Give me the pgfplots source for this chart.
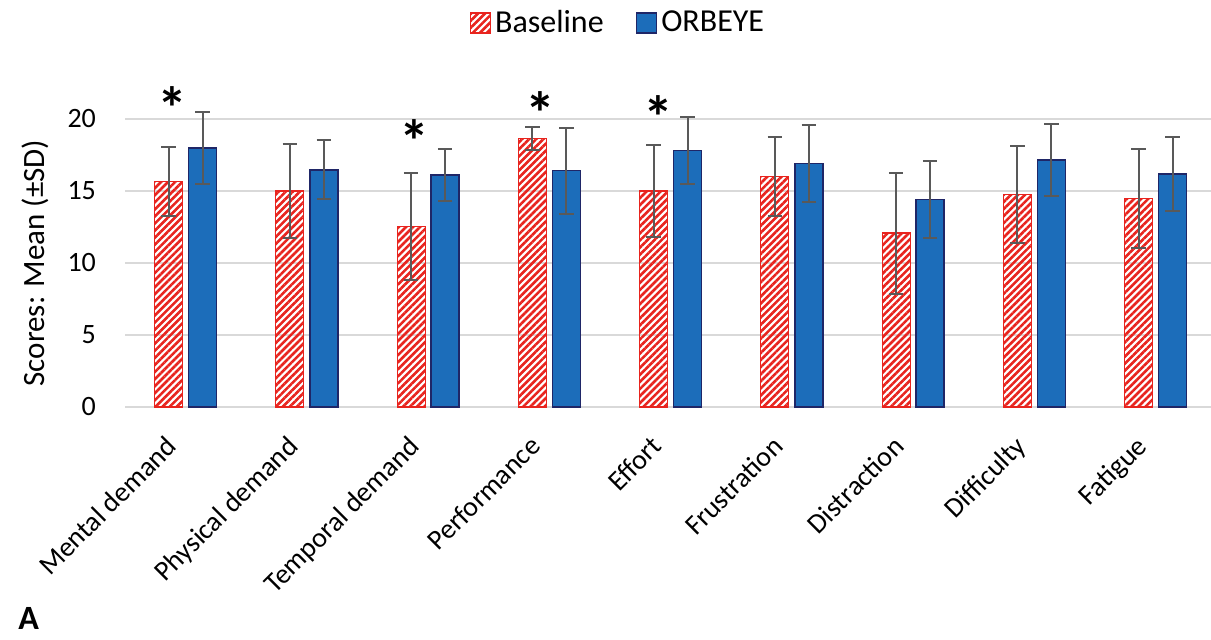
\documentclass[border=0pt]{standalone}
\usepackage{pgfplots}
\pgfplotsset{compat=1.18}
\usepackage{fontspec}
\setmainfont{Carlito}
\usetikzlibrary{patterns.meta}
\definecolor{bred}{RGB}{232,36,30}
\definecolor{oblue}{RGB}{28,109,186}
\definecolor{onavy}{RGB}{31,38,103}
\definecolor{egray}{RGB}{89,89,89}
\definecolor{ggray}{RGB}{217,217,217}
\begin{document}
\begin{tikzpicture}
\useasboundingbox (0,0) rectangle (605.5pt,320pt);
\begin{axis}[
  at={(62.5pt,116.5pt)}, anchor=south west,
  scale only axis, width=543pt, height=158.4pt,
  xmin=-0.5, xmax=8.457, ymin=0, ymax=22,
  ybar, bar width=14pt,
  clip=false,
  axis x line=bottom, axis y line=left,
  x axis line style={draw=ggray, line width=1pt, -},
  y axis line style={draw=none},
  ytick={0,5,10,15,20},
  ymajorgrids, grid style={draw=ggray, line width=1pt},
  major tick length=0pt,
  xtick={0,1,2,3,4,5,6,7,8},
  xticklabels={Mental demand,Physical demand,Temporal demand,Performance,Effort,Frustration,Distraction,Difficulty,Fatigue},
  xticklabel style={anchor=north east, inner sep=0pt, font=\fontsize{14}{16}\selectfont, xshift=-10.5pt, yshift=-13.5pt, rotate=45},
  yticklabel style={font=\fontsize{14}{16}\selectfont, xshift=-11pt},
  /pgf/number format/assume math mode=true,
  ylabel={Scores: Mean (±SD)},
  ylabel style={at={(axis description cs:-0.0829,0.4545)}, anchor=center, rotate=0, font=\fontsize{15.5}{17}\selectfont},
  legend style={at={(axis description cs:0.4549,1.2121)}, anchor=center, draw=none, fill=none,
    legend columns=2, font=\fontsize{16}{18}\selectfont, nodes={inner sep=2pt},
    /tikz/every even column/.append style={column sep=14pt}},
  legend image code/.code={\draw[#1] (0pt,-5pt) rectangle (10pt,5pt);},
  error bars/y dir=both, error bars/y explicit,
  error bars/error bar style={line width=1pt, color=egray},
  error bars/error mark options={rotate=90, mark size=3.6pt, line width=1pt, color=egray},
]
\addplot[bar shift=-8.5pt, draw=bred, line width=0.6pt, pattern={Lines[angle=45,distance=2.5pt,line width=1.3pt]}, pattern color=bred]
  coordinates {
  (0,15.65) +- (0,2.40)
  (1,15.00) +- (0,3.24)
  (2,12.55) +- (0,3.70)
  (3,18.64) +- (0,0.77)
  (4,15.00) +- (0,3.22)
  (5,16.00) +- (0,2.73)
  (6,12.08) +- (0,4.20)
  (7,14.75) +- (0,3.38)
  (8,14.47) +- (0,3.46)
  };
\addplot[bar shift=8.5pt, draw=onavy, line width=0.8pt, fill=oblue]
  coordinates {
  (0,17.99) +- (0,2.50)
  (1,16.46) +- (0,2.05)
  (2,16.11) +- (0,1.80)
  (3,16.41) +- (0,2.98)
  (4,17.82) +- (0,2.31)
  (5,16.90) +- (0,2.66)
  (6,14.42) +- (0,2.65)
  (7,17.15) +- (0,2.53)
  (8,16.18) +- (0,2.59)
  };
\legend{Baseline,ORBEYE}
\node[font=\fontsize{30}{30}\selectfont\bfseries, inner sep=0pt] at (axis cs:-0.107,20.73) {*};
\node[font=\fontsize{30}{30}\selectfont\bfseries, inner sep=0pt] at (axis cs:1.889,18.44) {*};
\node[font=\fontsize{30}{30}\selectfont\bfseries, inner sep=0pt] at (axis cs:2.928,20.38) {*};
\node[font=\fontsize{30}{30}\selectfont\bfseries, inner sep=0pt] at (axis cs:3.901,20.17) {*};
\end{axis}
\node[anchor=base west, inner sep=0pt, font=\fontsize{17}{19}\selectfont\bfseries] at (9pt,5pt) {A};
\end{tikzpicture}
\end{document}
